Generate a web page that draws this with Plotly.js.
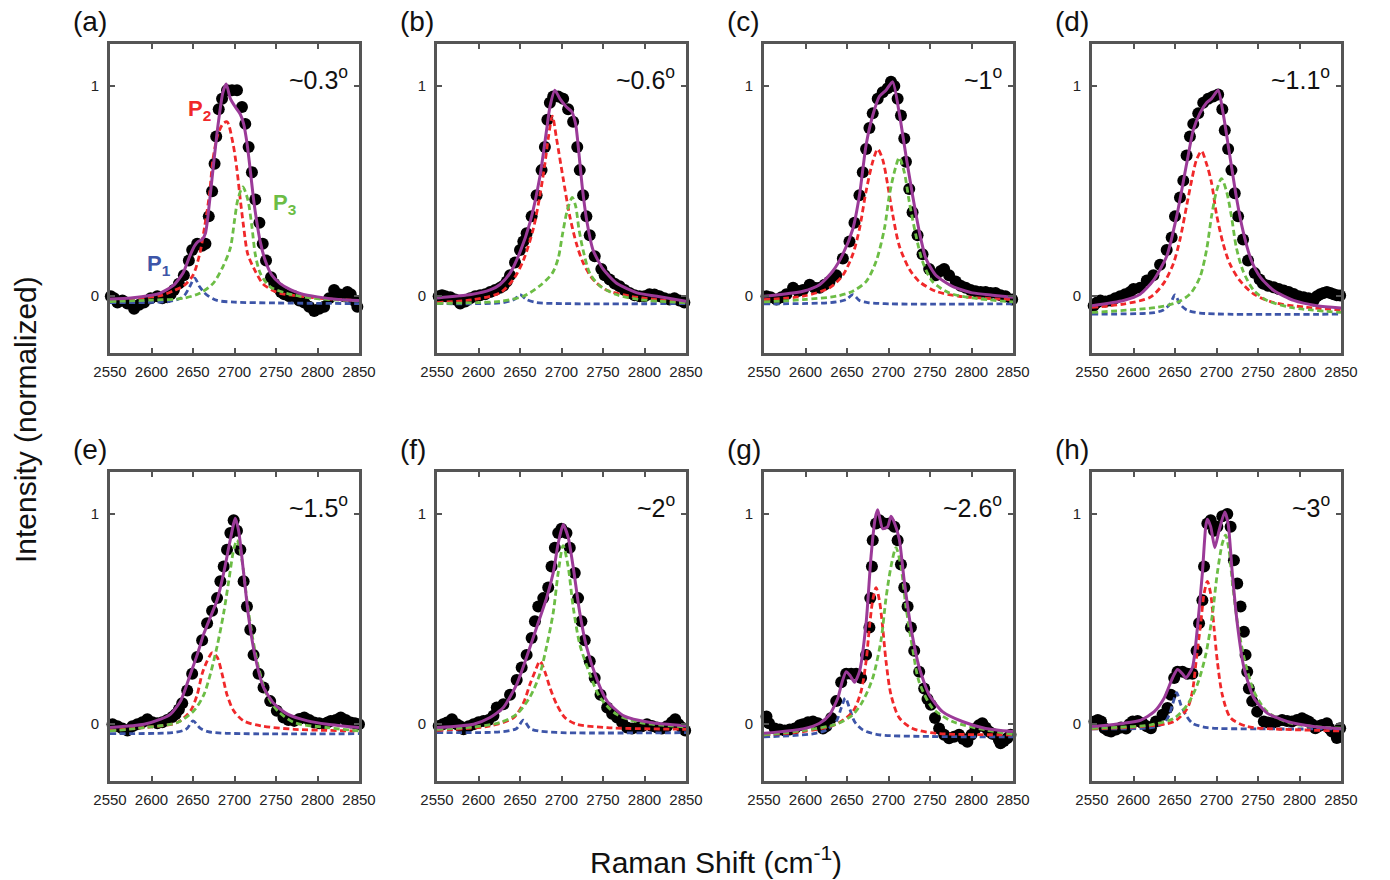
<!DOCTYPE html>
<html><head><meta charset="utf-8">
<script src="https://cdn.plot.ly/plotly-3.0.1.min.js"></script>
<style>html,body{margin:0;padding:0;background:#fff}#chart{width:1390px;height:880px}</style>
</head><body><div id="chart"></div>
<script>
// ---------- panel labels & twist angles ----------
const panelLetters = ['(a)','(b)','(c)','(d)','(e)','(f)','(g)','(h)'];
const angleLabels = ['~0.3','~0.6','~1','~1.1','~1.5','~2','~2.6','~3'];
const xTicks = [2550,2600,2650,2700,2750,2800,2850];
const yTicks = [0,1];

// ---------- (a) ~0.3 ----------
const dataA = [[2551,0.0],[2555,-0.01],[2559,-0.03],[2565,-0.02],[2571,-0.035],[2579,-0.06],[2585,-0.04],[2591,-0.03],[2599,-0.01],[2607,0.0],[2613,-0.01],[2619,-0.005],[2623,0.01],[2627,0.03],[2633,0.06],[2639,0.1],[2645,0.17],[2649,0.22],[2655,0.25],[2661,0.24],[2665,0.25],[2669,0.38],[2673,0.5],[2676,0.63],[2678,0.76],[2681,0.89],[2685,0.94],[2691,0.98],[2697,0.98],[2703,0.98],[2709,0.9],[2713,0.82],[2717,0.71],[2721,0.59],[2725,0.46],[2730,0.35],[2734,0.25],[2738,0.17],[2744,0.09],[2748,0.06],[2752,0.04],[2756,0.02],[2760,0.01],[2766,0.0],[2772,0.0],[2778,-0.02],[2784,-0.03],[2790,-0.05],[2796,-0.07],[2802,-0.06],[2808,-0.05],[2814,-0.01],[2820,0.03],[2826,0.01],[2832,0.0],[2836,0.02],[2840,0.01],[2844,-0.02],[2848,-0.05]];
const fitA = [[2550,-0.013],[2575,-0.008],[2600,0.005],[2610,0.014],[2626,0.05],[2638,0.11],[2646,0.19],[2652,0.24],[2656,0.26],[2661,0.27],[2665,0.3],[2668,0.38],[2674,0.6],[2680,0.81],[2686,0.97],[2690,1.01],[2695,0.94],[2701,0.9],[2707,0.866],[2711,0.82],[2715,0.73],[2719,0.6],[2723,0.46],[2727,0.35],[2731,0.26],[2737,0.17],[2745,0.1],[2755,0.06],[2768,0.03],[2780,0.012],[2800,-0.003],[2825,-0.015],[2850,-0.02]];
const p1A = [[2550,-0.03],[2620,-0.025],[2635,-0.01],[2640,0.005],[2646,0.045],[2652,0.086],[2658,0.045],[2663,0.02],[2667,0.005],[2679,-0.02],[2700,-0.028],[2750,-0.032],[2850,-0.035]];
const p2A = [[2550,-0.02],[2580,-0.01],[2611,0.003],[2627,0.027],[2639,0.05],[2650,0.1],[2658,0.2],[2664,0.33],[2670,0.49],[2674,0.65],[2680,0.77],[2686,0.82],[2691,0.83],[2698,0.73],[2703,0.6],[2707,0.46],[2711,0.33],[2716,0.2],[2725,0.12],[2734,0.06],[2745,0.03],[2755,0.014],[2780,0.0],[2810,-0.012],[2850,-0.02]];
const p3A = [[2550,-0.025],[2600,-0.018],[2638,-0.01],[2658,0.014],[2674,0.06],[2686,0.14],[2695,0.23],[2700,0.36],[2704,0.46],[2710,0.52],[2716,0.46],[2721,0.33],[2725,0.2],[2731,0.11],[2743,0.045],[2763,0.014],[2795,-0.01],[2850,-0.022]];

// ---------- (b) ~0.6 ----------
const dataB = [[2552,0.0],[2556,0.005],[2560,0.0],[2566,-0.005],[2572,-0.016],[2578,-0.035],[2584,-0.025],[2590,-0.01],[2596,0.0],[2602,0.005],[2608,0.01],[2614,0.02],[2620,0.03],[2626,0.04],[2630,0.05],[2634,0.07],[2638,0.1],[2644,0.16],[2650,0.22],[2654,0.26],[2658,0.3],[2664,0.38],[2670,0.48],[2676,0.6],[2680,0.71],[2683,0.84],[2686,0.92],[2690,0.95],[2696,0.95],[2702,0.94],[2708,0.89],[2714,0.83],[2719,0.71],[2722,0.6],[2726,0.48],[2730,0.38],[2734,0.29],[2740,0.19],[2748,0.13],[2752,0.1],[2758,0.08],[2764,0.06],[2770,0.048],[2776,0.03],[2782,0.016],[2788,0.005],[2794,0.0],[2800,0.0],[2806,0.01],[2812,0.008],[2818,0.0],[2824,-0.01],[2830,-0.016],[2836,-0.01],[2842,-0.02],[2848,-0.03]];
const fitB = [[2550,-0.008],[2591,0.008],[2614,0.03],[2626,0.056],[2638,0.11],[2650,0.21],[2662,0.35],[2674,0.57],[2682,0.79],[2686,0.9],[2692,0.98],[2698,0.94],[2706,0.9],[2712,0.88],[2717,0.82],[2721,0.68],[2725,0.52],[2730,0.37],[2738,0.22],[2750,0.13],[2766,0.063],[2791,0.016],[2815,0.0],[2850,-0.024]];
const p1B = [[2550,-0.035],[2630,-0.03],[2644,-0.013],[2650,0.008],[2658,-0.016],[2670,-0.03],[2700,-0.035],[2850,-0.035]];
const p2B = [[2550,-0.03],[2594,-0.016],[2626,0.016],[2642,0.08],[2654,0.17],[2666,0.32],[2674,0.48],[2680,0.63],[2684,0.75],[2689,0.857],[2694,0.75],[2702,0.56],[2710,0.38],[2718,0.25],[2726,0.16],[2738,0.08],[2754,0.03],[2783,0.0],[2815,-0.016],[2850,-0.03]];
const p3B = [[2550,-0.035],[2600,-0.03],[2626,-0.024],[2654,0.0],[2674,0.05],[2689,0.11],[2696,0.18],[2701,0.29],[2707,0.41],[2713,0.47],[2717,0.43],[2721,0.32],[2726,0.22],[2734,0.11],[2746,0.05],[2766,0.008],[2794,-0.016],[2850,-0.03]];

// ---------- (c) ~1 ----------
const dataC = [[2553,0.0],[2558,-0.005],[2565,-0.016],[2571,-0.005],[2577,0.01],[2585,0.04],[2591,0.025],[2597,0.03],[2605,0.055],[2611,0.04],[2617,0.04],[2623,0.055],[2629,0.07],[2637,0.1],[2645,0.18],[2653,0.26],[2659,0.35],[2665,0.48],[2669,0.59],[2673,0.7],[2677,0.8],[2681,0.87],[2687,0.94],[2693,0.97],[2699,0.99],[2703,1.02],[2707,1.0],[2711,0.94],[2715,0.86],[2719,0.75],[2721,0.64],[2725,0.51],[2729,0.4],[2735,0.29],[2741,0.2],[2749,0.13],[2757,0.1],[2763,0.12],[2767,0.13],[2773,0.1],[2781,0.07],[2787,0.05],[2793,0.04],[2799,0.03],[2805,0.024],[2811,0.02],[2817,0.02],[2823,0.015],[2829,0.016],[2835,0.005],[2841,0.0],[2849,-0.016]];
const fitC = [[2550,0.0],[2597,0.024],[2617,0.055],[2633,0.12],[2645,0.2],[2657,0.32],[2665,0.48],[2673,0.72],[2681,0.86],[2689,0.95],[2697,0.98],[2705,1.02],[2713,0.87],[2721,0.67],[2729,0.48],[2737,0.31],[2745,0.18],[2757,0.1],[2777,0.047],[2801,0.016],[2825,0.005],[2850,-0.005]];
const p1C = [[2550,-0.036],[2630,-0.03],[2649,-0.016],[2657,0.008],[2665,-0.02],[2675,-0.03],[2700,-0.036],[2850,-0.036]];
const p2C = [[2550,-0.016],[2597,0.0],[2629,0.04],[2645,0.1],[2657,0.2],[2665,0.32],[2673,0.5],[2681,0.64],[2687,0.7],[2693,0.65],[2699,0.53],[2705,0.39],[2713,0.24],[2725,0.13],[2737,0.07],[2757,0.024],[2785,0.0],[2850,-0.016]];
const p3C = [[2550,-0.027],[2597,-0.016],[2637,0.0],[2657,0.024],[2673,0.07],[2685,0.165],[2695,0.32],[2701,0.48],[2707,0.59],[2713,0.66],[2719,0.59],[2725,0.45],[2733,0.29],[2741,0.165],[2753,0.07],[2773,0.016],[2801,-0.008],[2850,-0.027]];

// ---------- (d) ~1.1 ----------
const dataD = [[2552,-0.045],[2556,-0.03],[2560,-0.02],[2566,-0.025],[2572,-0.02],[2578,-0.01],[2584,0.0],[2590,0.01],[2596,0.02],[2600,0.035],[2608,0.04],[2616,0.075],[2624,0.1],[2632,0.15],[2640,0.22],[2646,0.28],[2650,0.38],[2656,0.47],[2660,0.55],[2664,0.67],[2668,0.76],[2672,0.82],[2678,0.87],[2684,0.92],[2690,0.94],[2696,0.95],[2702,0.96],[2707,0.89],[2710,0.79],[2714,0.7],[2718,0.6],[2722,0.49],[2726,0.38],[2732,0.27],[2738,0.17],[2746,0.11],[2752,0.08],[2756,0.06],[2762,0.05],[2769,0.043],[2775,0.035],[2781,0.027],[2787,0.02],[2793,0.011],[2799,0.0],[2805,-0.005],[2811,-0.01],[2817,-0.02],[2821,0.0],[2825,0.01],[2829,0.015],[2833,0.02],[2837,0.015],[2841,0.01],[2845,0.005],[2849,0.003]];
const fitD = [[2550,-0.045],[2588,-0.02],[2608,0.01],[2624,0.075],[2640,0.19],[2652,0.38],[2664,0.63],[2672,0.79],[2680,0.87],[2688,0.92],[2694,0.94],[2702,0.98],[2708,0.87],[2716,0.67],[2724,0.47],[2732,0.31],[2742,0.17],[2753,0.09],[2769,0.027],[2793,-0.02],[2821,-0.045],[2850,-0.056]];
const p1D = [[2550,-0.085],[2625,-0.078],[2636,-0.065],[2644,-0.037],[2650,0.006],[2656,-0.037],[2664,-0.065],[2680,-0.08],[2850,-0.085]];
const p2D = [[2550,-0.053],[2588,-0.037],[2620,-0.005],[2636,0.06],[2648,0.155],[2656,0.27],[2664,0.43],[2670,0.55],[2676,0.65],[2682,0.69],[2688,0.63],[2694,0.54],[2700,0.39],[2708,0.25],[2716,0.155],[2728,0.075],[2745,0.01],[2769,-0.03],[2809,-0.053],[2850,-0.065]];
const p3D = [[2550,-0.077],[2628,-0.053],[2652,-0.03],[2668,0.01],[2680,0.09],[2688,0.22],[2694,0.38],[2700,0.5],[2706,0.56],[2712,0.5],[2718,0.38],[2724,0.23],[2732,0.12],[2745,0.027],[2761,-0.02],[2789,-0.053],[2850,-0.077]];

// ---------- (e) ~1.5 ----------
const dataE = [[2553,0.0],[2559,-0.01],[2565,-0.02],[2571,-0.03],[2577,-0.01],[2583,0.0],[2589,0.01],[2595,0.024],[2601,0.01],[2607,0.005],[2613,0.01],[2619,0.02],[2625,0.035],[2629,0.048],[2633,0.07],[2637,0.1],[2643,0.16],[2649,0.24],[2655,0.32],[2661,0.4],[2667,0.48],[2673,0.54],[2679,0.6],[2683,0.68],[2687,0.75],[2691,0.83],[2695,0.91],[2699,0.97],[2703,0.92],[2707,0.83],[2711,0.68],[2715,0.56],[2719,0.45],[2723,0.33],[2729,0.24],[2735,0.175],[2743,0.11],[2751,0.064],[2759,0.032],[2765,0.02],[2772,0.016],[2778,0.025],[2784,0.032],[2790,0.02],[2796,0.008],[2802,0.005],[2808,0.0],[2812,0.008],[2816,0.016],[2822,0.02],[2828,0.032],[2834,0.02],[2840,0.008],[2845,0.005],[2850,0.0]];
const fitE = [[2550,-0.016],[2591,0.0],[2611,0.024],[2623,0.048],[2635,0.11],[2647,0.24],[2655,0.33],[2663,0.43],[2671,0.51],[2679,0.59],[2687,0.72],[2693,0.84],[2699,0.955],[2701,0.98],[2705,0.92],[2711,0.72],[2717,0.51],[2725,0.32],[2735,0.175],[2748,0.096],[2764,0.048],[2788,0.016],[2812,0.0],[2850,-0.016]];
const p1E = [[2550,-0.045],[2625,-0.04],[2638,-0.03],[2643,-0.02],[2650,0.016],[2659,-0.02],[2668,-0.035],[2690,-0.043],[2850,-0.045]];
const p2E = [[2550,-0.029],[2591,-0.016],[2631,0.008],[2647,0.064],[2655,0.14],[2661,0.24],[2667,0.3],[2673,0.34],[2679,0.32],[2685,0.24],[2691,0.14],[2699,0.064],[2711,0.016],[2732,-0.008],[2772,-0.024],[2850,-0.032]];
const p3E = [[2550,-0.032],[2591,-0.016],[2631,0.008],[2651,0.064],[2663,0.14],[2671,0.24],[2679,0.37],[2687,0.53],[2693,0.68],[2699,0.83],[2703,0.876],[2709,0.78],[2715,0.59],[2721,0.43],[2729,0.27],[2739,0.14],[2752,0.064],[2772,0.008],[2812,-0.016],[2850,-0.032]];

// ---------- (f) ~2 ----------
const dataF = [[2552,-0.008],[2557,0.0],[2562,0.008],[2568,0.024],[2574,0.0],[2578,-0.01],[2582,-0.024],[2588,-0.01],[2594,0.0],[2600,0.01],[2606,0.016],[2612,0.02],[2618,0.04],[2622,0.08],[2630,0.095],[2638,0.14],[2646,0.21],[2652,0.27],[2658,0.33],[2664,0.41],[2668,0.49],[2672,0.56],[2678,0.6],[2684,0.65],[2688,0.75],[2692,0.84],[2696,0.91],[2700,0.93],[2706,0.91],[2710,0.84],[2716,0.72],[2720,0.6],[2724,0.49],[2728,0.4],[2734,0.3],[2740,0.22],[2747,0.14],[2755,0.08],[2761,0.05],[2767,0.032],[2773,0.01],[2779,-0.016],[2785,-0.02],[2791,-0.016],[2797,-0.01],[2803,0.0],[2809,-0.008],[2815,-0.016],[2821,-0.02],[2827,-0.01],[2833,0.01],[2837,0.024],[2841,0.0],[2845,-0.015],[2849,-0.03]];
const fitF = [[2550,-0.016],[2594,0.0],[2614,0.032],[2630,0.08],[2646,0.19],[2658,0.32],[2670,0.46],[2682,0.6],[2690,0.72],[2696,0.86],[2702,0.95],[2708,0.89],[2714,0.75],[2722,0.53],[2730,0.37],[2743,0.21],[2755,0.11],[2775,0.04],[2807,0.008],[2850,-0.008]];
const p1F = [[2550,-0.04],[2630,-0.035],[2646,-0.02],[2654,0.02],[2662,-0.02],[2672,-0.032],[2700,-0.04],[2850,-0.04]];
const p2F = [[2550,-0.029],[2614,-0.008],[2642,0.03],[2654,0.1],[2662,0.19],[2668,0.25],[2674,0.3],[2680,0.25],[2686,0.175],[2694,0.096],[2704,0.032],[2718,0.0],[2755,-0.016],[2850,-0.024]];
const p3F = [[2550,-0.024],[2594,-0.013],[2626,0.008],[2646,0.048],[2662,0.13],[2674,0.24],[2682,0.37],[2690,0.53],[2696,0.72],[2702,0.85],[2708,0.75],[2714,0.56],[2722,0.38],[2734,0.24],[2746,0.13],[2766,0.048],[2795,0.008],[2850,-0.013]];

// ---------- (g) ~2.6 ----------
const dataG = [[2553,0.037],[2556,0.005],[2563,-0.02],[2569,-0.025],[2575,-0.03],[2581,-0.025],[2587,-0.02],[2593,-0.005],[2597,0.0],[2603,0.01],[2609,0.013],[2615,0.005],[2621,-0.02],[2625,-0.01],[2631,0.03],[2637,0.11],[2643,0.2],[2649,0.24],[2655,0.24],[2661,0.24],[2667,0.22],[2673,0.33],[2677,0.46],[2678,0.6],[2680,0.75],[2681,0.875],[2685,0.955],[2689,0.97],[2695,0.955],[2701,0.955],[2707,0.94],[2711,0.875],[2715,0.76],[2719,0.65],[2723,0.56],[2727,0.46],[2731,0.35],[2737,0.25],[2743,0.17],[2747,0.12],[2751,0.093],[2756,0.03],[2761,-0.02],[2767,-0.05],[2773,-0.067],[2779,-0.06],[2785,-0.05],[2790,-0.07],[2795,-0.083],[2800,-0.05],[2805,-0.02],[2809,-0.005],[2813,0.005],[2817,-0.015],[2821,-0.035],[2825,-0.045],[2829,-0.05],[2833,-0.075],[2835,-0.09],[2839,-0.08],[2843,-0.067],[2847,-0.05]];
const fitG = [[2550,-0.043],[2597,-0.022],[2617,0.005],[2629,0.045],[2639,0.125],[2644,0.2],[2649,0.25],[2654,0.23],[2659,0.2],[2665,0.25],[2673,0.48],[2679,0.8],[2684,0.98],[2687,1.02],[2693,0.93],[2699,0.94],[2703,0.99],[2707,0.96],[2713,0.88],[2719,0.68],[2727,0.46],[2737,0.27],[2749,0.14],[2765,0.06],[2789,0.013],[2817,-0.02],[2850,-0.035]];
const p1G = [[2550,-0.06],[2610,-0.045],[2625,-0.027],[2637,0.013],[2643,0.077],[2648,0.125],[2653,0.077],[2659,0.013],[2669,-0.027],[2689,-0.05],[2750,-0.058],[2850,-0.06]];
const p2G = [[2550,-0.05],[2597,-0.035],[2637,0.0],[2657,0.06],[2667,0.157],[2673,0.3],[2677,0.46],[2681,0.59],[2685,0.65],[2689,0.59],[2693,0.46],[2697,0.3],[2703,0.14],[2713,0.03],[2729,-0.02],[2757,-0.043],[2850,-0.05]];
const p3G = [[2550,-0.05],[2597,-0.03],[2637,0.0],[2657,0.045],[2669,0.11],[2681,0.22],[2691,0.4],[2697,0.6],[2703,0.75],[2709,0.84],[2715,0.75],[2721,0.56],[2729,0.36],[2737,0.2],[2753,0.077],[2777,0.013],[2817,-0.027],[2850,-0.048]];

// ---------- (h) ~3 ----------
const dataH = [[2553,0.013],[2557,0.02],[2561,0.013],[2565,-0.019],[2569,-0.03],[2573,-0.035],[2579,-0.025],[2585,-0.015],[2591,-0.02],[2595,0.0],[2599,0.013],[2605,0.015],[2611,0.005],[2616,-0.01],[2621,-0.019],[2627,0.013],[2635,0.045],[2641,0.077],[2645,0.14],[2649,0.22],[2653,0.25],[2659,0.25],[2665,0.24],[2671,0.24],[2676,0.35],[2679,0.48],[2683,0.59],[2685,0.75],[2689,0.955],[2693,0.97],[2697,0.92],[2701,0.94],[2707,0.99],[2713,1.0],[2717,0.94],[2721,0.78],[2725,0.67],[2729,0.56],[2733,0.44],[2735,0.33],[2737,0.25],[2739,0.17],[2743,0.11],[2749,0.06],[2757,0.013],[2762,0.008],[2767,0.005],[2773,0.013],[2779,0.02],[2785,0.015],[2791,0.013],[2797,0.02],[2803,0.029],[2807,0.02],[2811,0.013],[2815,0.0],[2819,-0.019],[2823,-0.01],[2827,-0.003],[2833,0.005],[2836,-0.02],[2839,-0.035],[2845,-0.065],[2849,-0.019]];
const fitH = [[2550,-0.011],[2589,0.005],[2609,0.02],[2625,0.06],[2637,0.125],[2647,0.22],[2653,0.26],[2659,0.24],[2663,0.22],[2671,0.27],[2677,0.46],[2683,0.72],[2687,0.94],[2689,0.975],[2693,0.94],[2698,0.84],[2703,0.92],[2710,1.01],[2714,0.955],[2719,0.72],[2725,0.48],[2733,0.27],[2745,0.125],[2761,0.053],[2785,0.013],[2817,-0.011],[2850,-0.022]];
const p1H = [[2550,-0.022],[2621,-0.016],[2637,0.005],[2643,0.045],[2647,0.093],[2652,0.15],[2657,0.093],[2663,0.045],[2671,0.005],[2689,-0.016],[2750,-0.022],[2850,-0.022]];
const p2H = [[2550,-0.022],[2609,-0.011],[2649,0.013],[2665,0.077],[2671,0.157],[2676,0.32],[2681,0.48],[2685,0.62],[2689,0.68],[2693,0.62],[2697,0.46],[2701,0.3],[2707,0.14],[2717,0.03],[2737,-0.011],[2769,-0.022],[2850,-0.032]];
const p3H = [[2550,-0.019],[2621,-0.003],[2649,0.029],[2665,0.093],[2677,0.19],[2687,0.33],[2695,0.52],[2701,0.72],[2707,0.86],[2711,0.9],[2715,0.83],[2719,0.68],[2725,0.49],[2733,0.32],[2745,0.157],[2761,0.06],[2789,0.005],[2850,-0.019]];

// ---------- assembly ----------
const dataSets = [dataA,dataB,dataC,dataD,dataE,dataF,dataG,dataH];
const fitSets  = [fitA,fitB,fitC,fitD,fitE,fitF,fitG,fitH];
const p1Sets   = [p1A,p1B,p1C,p1D,p1E,p1F,p1G,p1H];
const p2Sets   = [p2A,p2B,p2C,p2D,p2E,p2F,p2G,p2H];
const p3Sets   = [p3A,p3B,p3C,p3D,p3E,p3F,p3G,p3H];

const W = 1390, H = 880;
const colLeft = [110, 437, 764, 1092], panelW = 249;
const rowTop = [44, 472], panelH = 309;
const FONT = 'Liberation Sans, Arial, Helvetica, sans-serif';
const FRAME = '#555555';
const C_BLUE = '#3d55a8', C_RED = '#f0282a', C_GREEN = '#6cbd45', C_PURPLE = '#9b3a98';

const traces = [];
const layout = {
  width: W, height: H, margin: {l:0, r:0, t:0, b:0},
  paper_bgcolor: '#ffffff', plot_bgcolor: '#ffffff',
  showlegend: false, font: {family: FONT, color: '#222'},
  annotations: []
};
const xs = a => a.map(p => p[0]);
const ys = a => a.map(p => p[1]);

for (let k = 0; k < 8; k++) {
  const s = k === 0 ? '' : String(k + 1);
  const col = k % 4, row = Math.floor(k / 4);
  const L = colLeft[col], T = rowTop[row];
  const xd = [L / W, (L + panelW) / W];
  const yd = [1 - (T + panelH) / H, 1 - T / H];
  const common = {showline: true, linewidth: 3, linecolor: FRAME, mirror: 'ticks',
    ticks: 'inside', ticklen: 5, tickwidth: 2, tickcolor: FRAME,
    showgrid: false, zeroline: false, fixedrange: true,
    tickfont: {family: FONT, size: 15, color: '#222'}, ticklabelstandoff: 3};
  layout['xaxis' + s] = Object.assign({}, common, {domain: xd, anchor: 'y' + s,
    range: [2550, 2850], tickmode: 'array', tickvals: xTicks, ticktext: xTicks.map(String)});
  layout['yaxis' + s] = Object.assign({}, common, {domain: yd, anchor: 'x' + s,
    range: [-0.27, 1.2], tickmode: 'array', tickvals: yTicks, ticktext: yTicks.map(String),
    ticklabelstandoff: 5});
  const ax = {xaxis: 'x' + s, yaxis: 'y' + s, hoverinfo: 'skip'};
  traces.push(Object.assign({x: xs(dataSets[k]), y: ys(dataSets[k]), mode: 'markers', type: 'scatter',
    cliponaxis: false, marker: {size: 12, color: '#000'}}, ax));
  const dashLine = (arr, c) => Object.assign({x: xs(arr), y: ys(arr), mode: 'lines', type: 'scatter',
    line: {color: c, width: 2.8, dash: '6px,3.5px', shape: 'spline', smoothing: 0.8}}, ax);
  traces.push(dashLine(p1Sets[k], C_BLUE));
  traces.push(dashLine(p2Sets[k], C_RED));
  traces.push(dashLine(p3Sets[k], C_GREEN));
  traces.push(Object.assign({x: xs(fitSets[k]), y: ys(fitSets[k]), mode: 'lines', type: 'scatter',
    line: {color: C_PURPLE, width: 3, shape: 'spline', smoothing: 0.6}}, ax));

  // panel letter
  layout.annotations.push({xref: 'paper', yref: 'paper', x: (L - 39) / W, y: 1 - (T - 23) / H,
    xanchor: 'left', yanchor: 'middle', showarrow: false, text: panelLetters[k],
    font: {family: FONT, size: 28, color: '#111'}});
  // twist angle
  layout.annotations.push({xref: 'paper', yref: 'paper', x: (L + panelW - 9) / W, y: 1 - (T + 34) / H,
    xanchor: 'right', yanchor: 'middle', showarrow: false, text: angleLabels[k] + '<sup>o</sup>',
    font: {family: FONT, size: 25, color: '#111'}});
}

// peak labels in panel (a)
layout.annotations.push(
  {xref: 'x', yref: 'y', x: 2658, y: 0.885, showarrow: false, text: '<b>P<sub>2</sub></b>', font: {family: FONT, size: 22, color: C_RED}},
  {xref: 'x', yref: 'y', x: 2760, y: 0.44, showarrow: false, text: '<b>P<sub>3</sub></b>', font: {family: FONT, size: 22, color: C_GREEN}},
  {xref: 'x', yref: 'y', x: 2609, y: 0.15, showarrow: false, text: '<b>P<sub>1</sub></b>', font: {family: FONT, size: 22, color: C_BLUE}}
);
// axis titles
layout.annotations.push(
  {xref: 'paper', yref: 'paper', x: 25 / W, y: 1 - 420 / H, textangle: -90, showarrow: false,
   xanchor: 'center', yanchor: 'middle', text: 'Intensity (normalized)', font: {family: FONT, size: 30, color: '#111'}},
  {xref: 'paper', yref: 'paper', x: 716 / W, y: 1 - 860 / H, showarrow: false,
   xanchor: 'center', yanchor: 'middle', text: 'Raman Shift (cm<sup>-1</sup>)', font: {family: FONT, size: 30, color: '#111'}}
);

Plotly.newPlot('chart', traces, layout, {staticPlot: true, displayModeBar: false});
</script></body></html>
